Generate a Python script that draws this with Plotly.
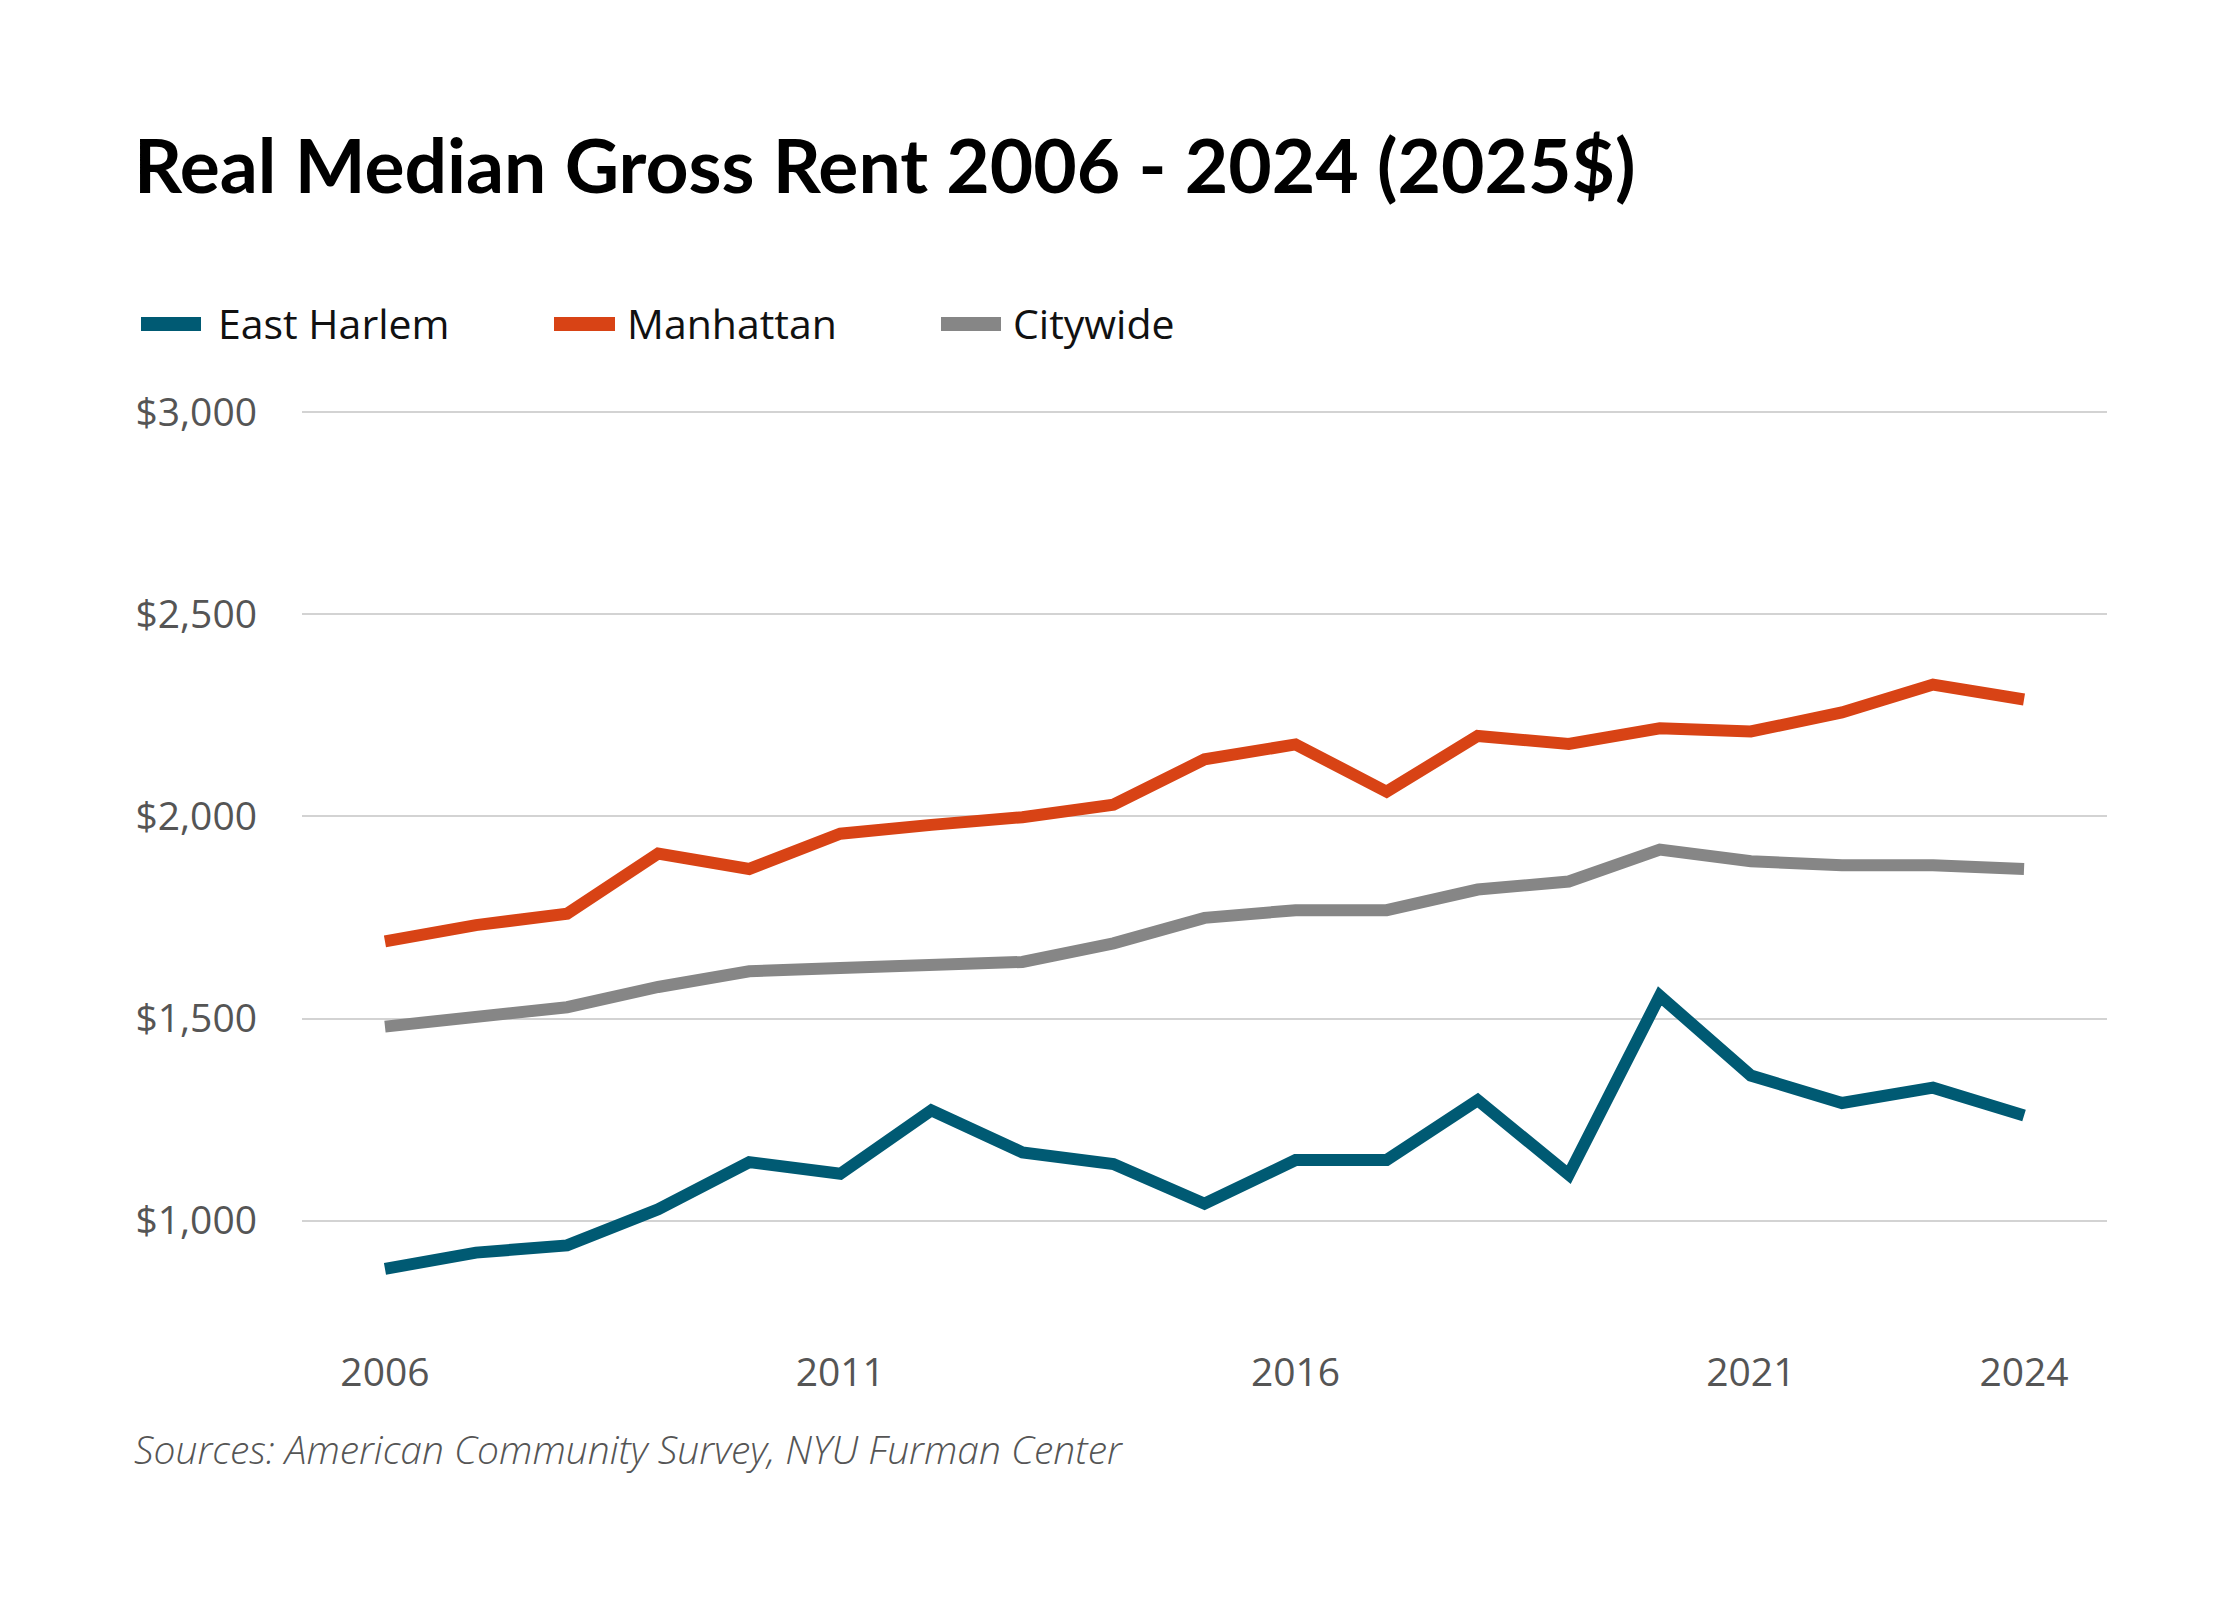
import plotly.graph_objects as go

# Real median gross rent, 2025 dollars
years = list(range(2006, 2025))
east_harlem = [881, 921, 939, 1028, 1145, 1116, 1273, 1169, 1140, 1042,
               1150, 1150, 1298, 1114, 1556, 1359, 1291, 1329, 1260]
manhattan = [1691, 1731, 1759, 1908, 1870, 1957, 1979, 1998, 2029, 2141,
             2178, 2061, 2199, 2179, 2218, 2210, 2257, 2326, 2289]
citywide = [1480, 1501, 1528, 1578, 1617, 1625, 1632, 1640, 1686, 1749,
            1768, 1768, 1819, 1839, 1918, 1889, 1879, 1879, 1870]

series = [
    ('East Harlem', east_harlem, '#005a73'),
    ('Manhattan', manhattan, '#d84315'),
    ('Citywide', citywide, '#868686'),
]

x_ticks = [2006, 2011, 2016, 2021, 2024]
y_ticks = [1000, 1500, 2000, 2500, 3000]
y_labels = ['$1,000', '$1,500', '$2,000', '$2,500', '$3,000']

W, H = 2240, 1600
OFF = 8  # page body margin
L, R, T, B = 302 - OFF, 133 + OFF, 408 - OFF, 258 + OFF
pw, ph = W - L - R, H - T - B


# screen pixel -> paper coordinates
def px(x):
    return (x - OFF - L) / pw


def py(y):
    return (H - B - (y - OFF)) / ph


fig = go.Figure()
for name, vals, color in series:
    fig.add_trace(go.Scatter(x=years, y=vals, name=name, mode='lines',
                             line=dict(color=color, width=12),
                             showlegend=False))

# legend drawn by hand: swatch + label
legend_pos = [(141, 201, 216), (554, 615, 625), (941, 1001, 1011)]
shapes = []
annotations = []
for (name, vals, color), (x0, x1, tx) in zip(series, legend_pos):
    shapes.append(dict(type='line', xref='paper', yref='paper',
                       x0=px(x0), x1=px(x1), y0=py(324), y1=py(324),
                       line=dict(color=color, width=14)))
    annotations.append(dict(text=name, xref='paper', yref='paper',
                            x=px(tx), y=py(323), xanchor='left', yanchor='middle',
                            showarrow=False,
                            font=dict(family='Open Sans', size=41, color='#111111')))

annotations.append(dict(text='<b>Real Median Gross Rent 2006 - 2024 (2025$)</b>',
                        xref='paper', yref='paper', x=px(132), y=py(164),
                        xanchor='left', yanchor='middle', showarrow=False,
                        font=dict(family='Lato', size=75, color='#000000')))
annotations.append(dict(text='<i>Sources: American Community Survey, NYU Furman Center</i>',
                        xref='paper', yref='paper', x=px(132), y=py(1448),
                        xanchor='left', yanchor='middle', showarrow=False,
                        font=dict(family='Open Sans', size=39, color='#555555', weight=300)))

fig.update_layout(
    width=W, height=H,
    margin=dict(l=L, r=R, t=T, b=B),
    paper_bgcolor='white', plot_bgcolor='white',
    shapes=shapes, annotations=annotations,
    xaxis=dict(range=[2005.089, 2024.911], tickvals=x_ticks,
               ticktext=[str(t) for t in x_ticks], showgrid=False,
               zeroline=False, showline=False, ticklabelstandoff=4,
               tickfont=dict(family='Open Sans', size=39, color='#555555')),
    yaxis=dict(range=[700, 3010], tickvals=y_ticks, ticktext=y_labels,
               showgrid=True, gridcolor='#d3d3d3', gridwidth=2,
               zeroline=False, showline=False, ticklabelstandoff=44,
               tickfont=dict(family='Open Sans', size=39, color='#555555')),
)

fig.write_html("out.html")
